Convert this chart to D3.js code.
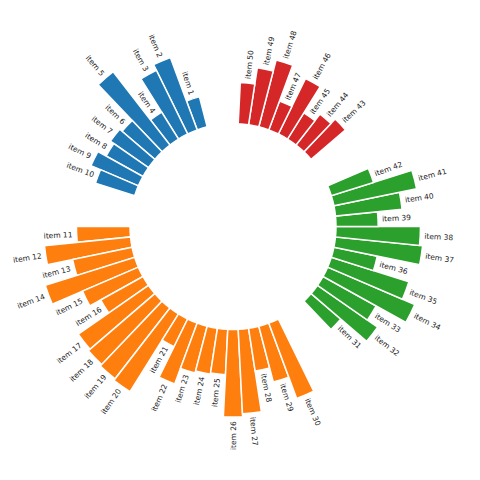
<!DOCTYPE html>
<html>
<head>
<meta charset="utf-8">
<script src="https://cdn.jsdelivr.net/npm/d3@7"></script>
<style>
  body { margin: 0; background: #fff; }
</style>
</head>
<body>
<div id="chart"></div>
<script>
const width = 480;
const height = 480;

// values, one per item
const labels = d3.range(1, 51).map(i => "item " + i);
const values = [
  30, 75, 69, 31, 90, 42, 45, 41, 50, 40,
  52, 84, 59, 91, 59, 47, 83, 85, 87, 89, 30, 63, 47, 45, 44, 85, 82, 42, 56, 78,
  38, 71, 59, 92, 79, 43, 85, 82, 41, 65, 82, 43,
  44, 38, 30, 60, 30, 67, 56, 40
];
const groups = ["A", "B", "C", "D"];
const groupSizes = [10, 20, 12, 8];
const groupColors = ["#1f77b4", "#ff7f0e", "#2ca02c", "#d62728"];

const PAD = 3;
const cx = 233, cy = 226.5;
const R = 206;

// slot positions with empty slots before each group
const nSlots = values.length + PAD * groups.length;
const step = 2 * Math.PI / nSlots;
let idxs = [], grp = [];
let offset = 0;
groupSizes.forEach((size, g) => {
  for (let i = 0; i < size; i++) { idxs.push(offset + PAD + i); grp.push(g); }
  offset += size + PAD;
});

const data = values.map((v, i) => ({
  label: labels[i],
  value: v,
  group: grp[i],
  angle: idxs[i] * step   // counter-clockwise from the top
}));

const r = d3.scaleLinear().domain([-100, 100]).range([0, R]);
const color = d3.scaleOrdinal().domain(d3.range(groups.length)).range(groupColors);

const arc = d3.arc()
  .innerRadius(r(0))
  .outerRadius(d => r(d.value))
  .startAngle(d => -(d.angle + step / 2))
  .endAngle(d => -(d.angle - step / 2));

const svg = d3.select("#chart")
  .append("svg")
    .attr("width", width)
    .attr("height", height);

const g = svg.append("g")
    .attr("transform", `translate(${cx},${cy})`);

g.append("g")
  .selectAll("path")
  .data(data)
  .join("path")
    .attr("d", arc)
    .attr("fill", d => color(d.group))
    .attr("stroke", "white")
    .attr("stroke-width", 1.5);

g.append("g")
    .style("font", "7.5px 'DejaVu Sans'")
    .attr("fill", "#222")
  .selectAll("text")
  .data(data)
  .join("text")
    .attr("transform", d => {
      const rr = r(d.value + 4);
      const x = -rr * Math.sin(d.angle);
      const y = -rr * Math.cos(d.angle);
      let rot = d.angle * 180 / Math.PI + 90;
      if (d.angle <= Math.PI) rot += 180;
      return `translate(${x},${y}) rotate(${-rot})`;
    })
    .attr("text-anchor", d => d.angle <= Math.PI ? "end" : "start")
    .attr("dominant-baseline", "central")
    .text(d => d.label);
</script>
</body>
</html>
